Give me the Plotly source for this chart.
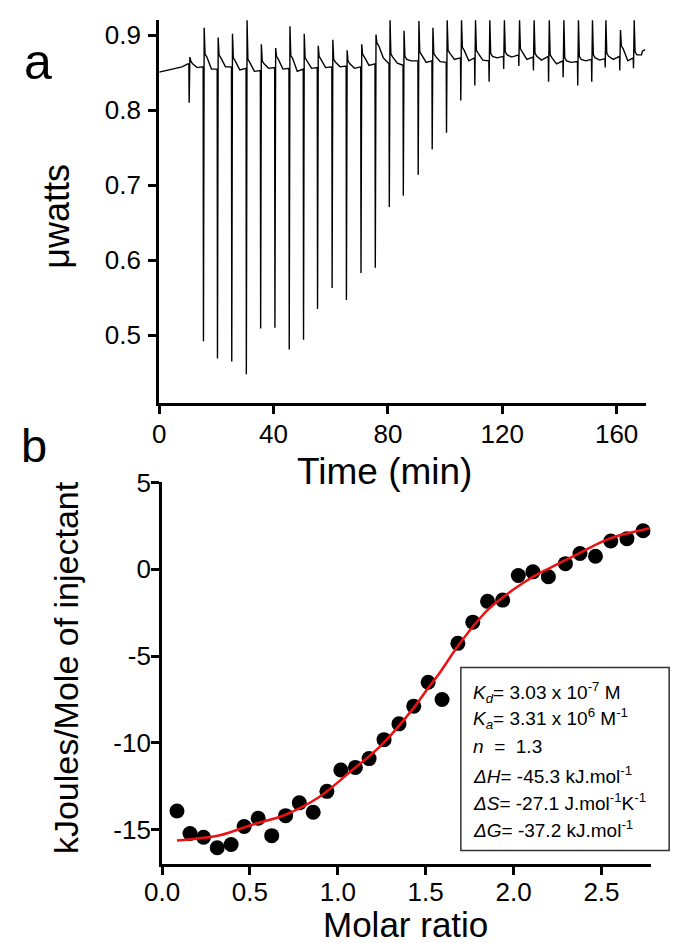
import plotly.graph_objects as go

W, H = 675, 943

# ---------------- Panel a: raw ITC thermogram ----------------
start_t = [0, 2, 4, 6, 8, 10]
start_v = [0.851, 0.853, 0.854, 0.857, 0.858, 0.862]

inj_t = [10.5, 15.5, 20.4, 25.4, 30.5, 35.5, 40.5, 45.5, 50.5, 55.4, 60.5, 65.5,
         70.6, 75.6, 80.5, 85.4, 90.6, 95.5, 100.5, 105.5, 110.4, 115.4, 120.5,
         125.8, 130.9, 136.2, 141.3, 146.4, 151.3, 156.0, 161.1, 165.9]
inj_pre = [0.862, 0.858, 0.855, 0.858, 0.856, 0.853, 0.857, 0.856, 0.855, 0.857, 0.858,
           0.859, 0.858, 0.862, 0.862, 0.860, 0.866, 0.866, 0.864, 0.870, 0.870, 0.866,
           0.872, 0.874, 0.871, 0.872, 0.866, 0.865, 0.868, 0.869, 0.872, 0.870]
inj_min = [0.810, 0.492, 0.469, 0.465, 0.448, 0.509, 0.510, 0.481, 0.494, 0.535, 0.563,
           0.547, 0.583, 0.590, 0.671, 0.686, 0.714, 0.748, 0.770, 0.813, 0.833, 0.838,
           0.855, 0.859, 0.853, 0.838, 0.844, 0.833, 0.838, 0.857, 0.853, 0.856]
inj_max = [0.871, 0.910, 0.897, 0.902, 0.920, 0.888, 0.883, 0.912, 0.902, 0.886, 0.894,
           0.880, 0.888, 0.901, 0.920, 0.906, 0.919, 0.910, 0.920, 0.920, 0.920, 0.920,
           0.920, 0.920, 0.920, 0.920, 0.920, 0.920, 0.920, 0.920, 0.907, 0.920]
inj_bump = [0.866, 0.875, 0.874, 0.870, 0.868, 0.866, 0.872, 0.873, 0.870, 0.872, 0.868,
            0.866, 0.875, 0.890, 0.875, 0.872, 0.878, 0.876, 0.880, 0.884, 0.880, 0.876,
            0.878, 0.882, 0.876, 0.874, 0.870, 0.872, 0.874, 0.876, 0.886, 0.878]
inj_dip = [0.857, 0.855, 0.858, 0.854, 0.852, 0.856, 0.855, 0.852, 0.856, 0.857, 0.858,
           0.856, 0.860, 0.870, 0.863, 0.866, 0.864, 0.865, 0.868, 0.866, 0.867, 0.870,
           0.871, 0.868, 0.867, 0.862, 0.864, 0.866, 0.867, 0.868, 0.866, 0.874]
end_t = [169.0, 170.0]
end_v = [0.879, 0.881]

time_ticks = [0, 40, 80, 120, 160]
power_ticks = [0.5, 0.6, 0.7, 0.8, 0.9]

# ---------------- Panel b: integrated heats ----------------
ratio = [0.085, 0.159, 0.236, 0.314, 0.393, 0.467, 0.547, 0.624, 0.703, 0.781, 0.860,
         0.938, 1.017, 1.100, 1.178, 1.263, 1.348, 1.432, 1.514, 1.593, 1.683, 1.768,
         1.852, 1.938, 2.027, 2.110, 2.198, 2.295, 2.378, 2.466, 2.553, 2.645, 2.737]
heat = [-13.93, -15.23, -15.44, -16.05, -15.86, -14.82, -14.35, -15.35, -14.20, -13.46,
        -14.00, -12.80, -11.57, -11.42, -10.91, -9.82, -8.91, -7.89, -6.51, -7.51, -4.27,
        -3.05, -1.85, -1.78, -0.36, -0.15, -0.43, 0.32, 0.91, 0.75, 1.63, 1.76, 2.22]
fit_x = [0.085, 0.20, 0.329, 0.513, 0.698, 0.883, 1.067, 1.251, 1.436, 1.51, 1.575,
         1.676, 1.768, 1.860, 1.953, 2.045, 2.137, 2.230, 2.322, 2.414, 2.507, 2.599,
         2.691, 2.774]
fit_y = [-15.63, -15.52, -15.33, -14.72, -14.16, -13.20, -11.70, -10.10, -7.93, -6.90,
         -6.04, -4.53, -3.31, -2.27, -1.51, -0.85, -0.28, 0.19, 0.66, 1.13, 1.60, 1.94,
         2.17, 2.36]

ratio_ticks = [0, 0.5, 1.0, 1.5, 2.0, 2.5]
heat_ticks = [-15, -10, -5, 0, 5]
heat_ticktext = ["-15", "-10", "-5", "0", "5"]

box_lines = [
    "<i>K<sub>d</sub></i>= 3.03 x 10<sup>-7</sup>\u00a0M",
    "<i>K<sub>a</sub></i>= 3.31 x 10<sup>6</sup>\u00a0M<sup>-1</sup>",
    "<i>n</i>\u00a0 =\u00a0 1.3",
    "<i>ΔH</i>= -45.3 kJ.mol<sup>-1</sup>",
    "<i>ΔS</i>= -27.1 J.mol<sup>-1</sup>K<sup>-1</sup>",
    "<i>ΔG</i>= -37.2 kJ.mol<sup>-1</sup>",
]

# build thermogram polyline from the read values
tl, vl = list(start_t), list(start_v)
for i, t in enumerate(inj_t):
    tl += [t - 0.1, t, t + 0.25, t + 0.55, t + 1.2, t + 2.8]
    vl += [inj_pre[i], inj_min[i], inj_max[i], inj_bump[i], inj_bump[i] - 0.004, inj_dip[i]]
tl += end_t
vl += end_v


def px(x):
    return x / W


def py(y):
    return 1 - y / H


FONT = "Liberation Sans, Arial, sans-serif"
fig = go.Figure()
fig.add_trace(go.Scatter(x=tl, y=vl, mode="lines", line=dict(color="black", width=1.4),
                         xaxis="x", yaxis="y", showlegend=False))
fig.add_trace(go.Scatter(x=ratio, y=heat, mode="markers",
                         marker=dict(color="black", size=15, line=dict(width=0)),
                         xaxis="x2", yaxis="y2", showlegend=False))
fig.add_trace(go.Scatter(x=fit_x, y=fit_y, mode="lines", line=dict(color="#ee1111", width=2.5,
                         shape="spline"), xaxis="x2", yaxis="y2", showlegend=False))

axcommon = dict(showgrid=False, zeroline=False, showline=True, linecolor="black", linewidth=3,
                ticks="outside", ticklen=8, tickwidth=2.5, tickcolor="black",
                tickfont=dict(family=FONT, size=26, color="black"))

fig.update_layout(
    width=W, height=H, margin=dict(l=0, r=0, t=0, b=0),
    paper_bgcolor="white", plot_bgcolor="white",
    xaxis=dict(domain=[px(145), px(645)], range=[0, 170.2], tickvals=time_ticks,
               anchor="y", ticklabelstandoff=-2, **axcommon),
    yaxis=dict(domain=[py(394), py(5)], range=[0.41, 0.9206], tickvals=power_ticks,
               tickformat=".1f", anchor="x", ticklabelstandoff=2, **axcommon),
    xaxis2=dict(domain=[px(148), px(650)], range=[0, 2.78], tickvals=ratio_ticks,
                tickformat=".1f", anchor="y2", ticklabelstandoff=-5, **axcommon),
    yaxis2=dict(domain=[py(863), py(475)], range=[-17, 5], tickvals=heat_ticks,
                ticktext=heat_ticktext, anchor="x2", ticklabelstandoff=-5, **axcommon),
)

ann = []
ann.append(dict(text="a", x=px(21), y=py(48), font=dict(family=FONT, size=50)))
ann.append(dict(text="b", x=px(16), y=py(437), font=dict(family=FONT, size=47)))
ann.append(dict(text="μwatts", x=px(40), y=py(204), textangle=-90, font=dict(family=FONT, size=36)))
ann.append(dict(text="Time (min)", x=px(377), y=py(464), font=dict(family=FONT, size=37)))
ann.append(dict(text="kJoules/Mole of injectant", x=px(50), y=py(663), textangle=-90,
                font=dict(family=FONT, size=34)))
ann.append(dict(text="Molar ratio", x=px(398), y=py(924), font=dict(family=FONT, size=35)))
for a in ann:
    a.update(xref="paper", yref="paper", showarrow=False, xanchor="center", yanchor="middle")
    a["font"]["color"] = "black"

line_y = [688, 715, 743, 772, 800, 827]
for txt, yy in zip(box_lines, line_y):
    ann.append(dict(text=txt, x=px(465), y=py(yy), xref="paper", yref="paper", showarrow=False,
                    xanchor="left", yanchor="middle",
                    font=dict(family=FONT, size=19, color="black")))
fig.update_layout(annotations=ann)

fig.add_shape(type="rect", xref="paper", yref="paper", x0=px(455), x1=px(669), y0=py(849), y1=py(663),
              line=dict(color="#333333", width=1.5), fillcolor="white", layer="above")

# remove the default 8px page margin so the 675x943 figure fills the window exactly
fig.write_html("out.html", config={"displayModeBar": False},
               post_script="document.body.style.margin='0px';")
